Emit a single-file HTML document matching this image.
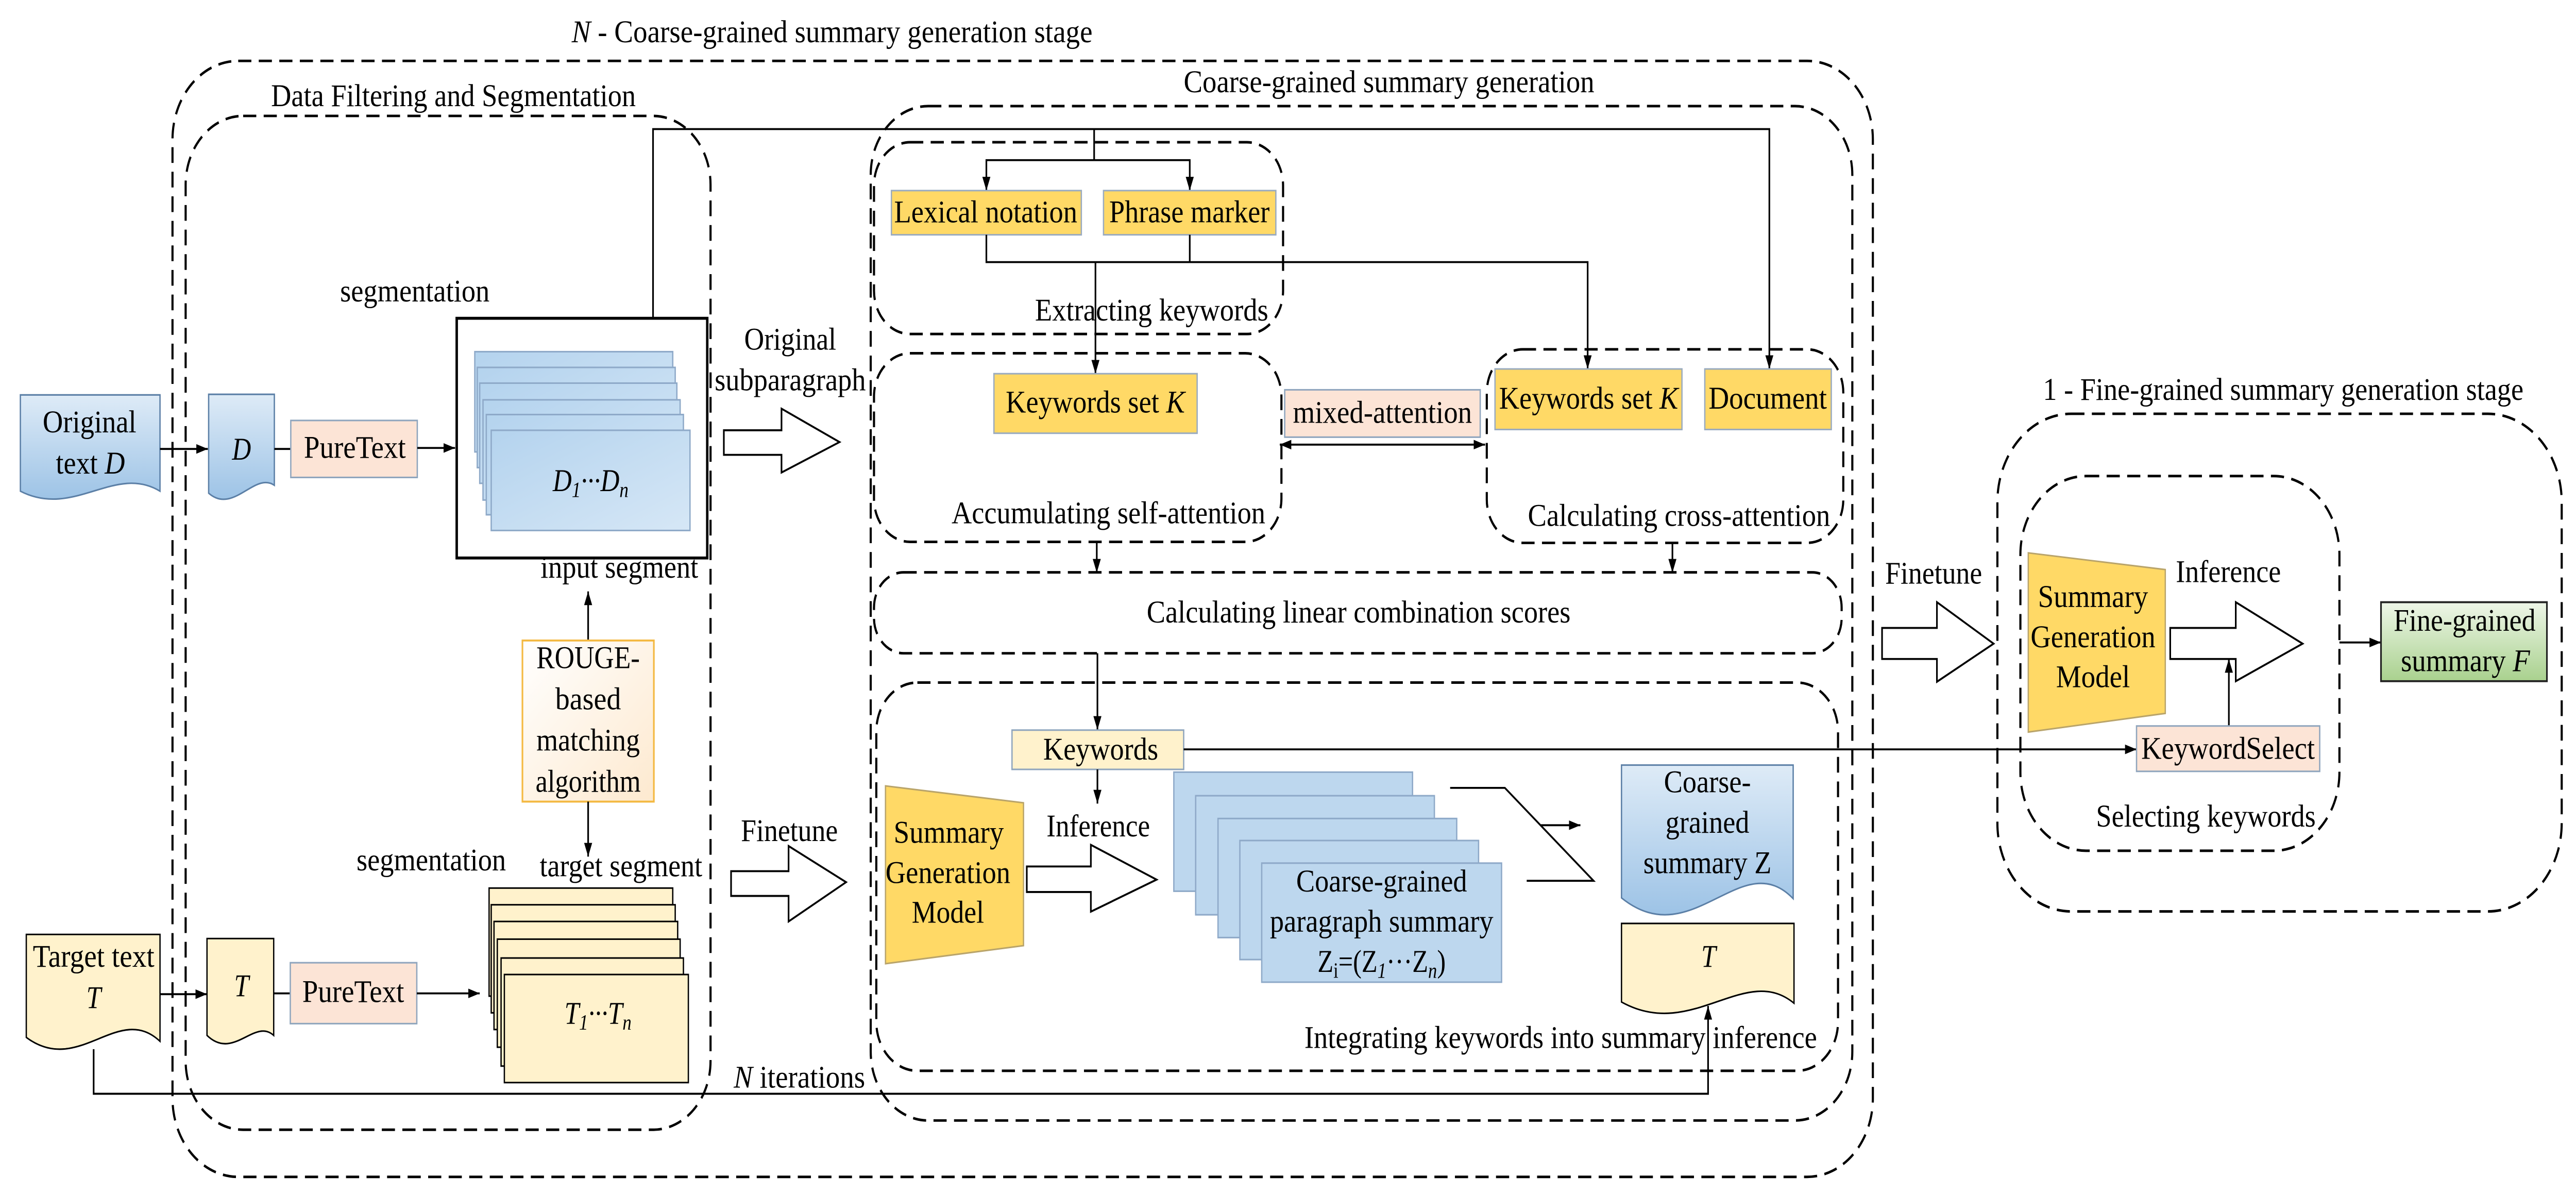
<!DOCTYPE html>
<html><head><meta charset="utf-8"><style>
html,body{margin:0;padding:0;background:#fff;overflow:hidden;width:100vw;height:100vh;}
svg{display:block;width:100vw;height:100vh;}
text{font-family:"Liberation Serif",serif;font-size:16px;fill:#000;}
.d{fill:none;stroke:#000;stroke-width:1.3;stroke-dasharray:8 4.5;}
.l{fill:none;stroke:#000;stroke-width:1;}
</style></head><body>
<svg xmlns="http://www.w3.org/2000/svg" viewBox="0 0 1568 607.2" preserveAspectRatio="none">
<defs>
<marker id="a" viewBox="0 0 10 10" refX="10" refY="5" markerWidth="7" markerHeight="7" markerUnits="userSpaceOnUse" orient="auto-start-reverse"><path d="M0,1.5 L10,5 L0,8.5z" fill="#000"/></marker>
<linearGradient id="bd" x1="0" y1="0" x2="0" y2="1"><stop offset="0" stop-color="#deebf7"/><stop offset="1" stop-color="#9dc3e6"/></linearGradient>
<linearGradient id="bl" x1="0" y1="0" x2="1" y2="1"><stop offset="0" stop-color="#b4d3ee"/><stop offset="1" stop-color="#d6e7f6"/></linearGradient>
<linearGradient id="gr" x1="0" y1="0" x2="0" y2="1"><stop offset="0" stop-color="#eef6e8"/><stop offset="1" stop-color="#a9d18e"/></linearGradient>
<linearGradient id="ro" x1="0" y1="0" x2="1" y2="1"><stop offset="0" stop-color="#ffffff"/><stop offset="1" stop-color="#fde9cf"/></linearGradient>
</defs>

<rect class="d" x="105" y="31" width="1035" height="568" rx="40"/>
<rect class="d" x="113" y="59" width="319.5" height="516" rx="35"/>
<rect class="d" x="530" y="54" width="597.5" height="516.3" rx="35"/>
<rect class="d" x="532" y="72.4" width="249" height="97.6" rx="22"/>
<rect class="d" x="532" y="179.8" width="248" height="96" rx="22"/>
<rect class="d" x="905" y="177.8" width="217" height="98.5" rx="22"/>
<rect class="d" x="532" y="291.3" width="589" height="41.2" rx="18"/>
<rect class="d" x="533.4" y="347.4" width="585.4" height="197.6" rx="25"/>
<rect class="d" x="1215.8" y="210.6" width="343.5" height="253.3" rx="45"/>
<rect class="d" x="1229.8" y="242.3" width="194.2" height="190.7" rx="40"/>

<text x="348" y="21.5" textLength="317" lengthAdjust="spacingAndGlyphs"><tspan font-style="italic">N</tspan> - Coarse-grained summary generation stage</text>
<text x="276" y="54" text-anchor="middle" textLength="222" lengthAdjust="spacingAndGlyphs">Data Filtering and Segmentation</text>
<text x="845.5" y="47" text-anchor="middle" textLength="250" lengthAdjust="spacingAndGlyphs">Coarse-grained summary generation</text>
<text x="1389.8" y="203.6" text-anchor="middle" textLength="292.5" lengthAdjust="spacingAndGlyphs">1 - Fine-grained summary generation stage</text>

<path d="M12.4,201 H97.4 V250 C70,236 45,264 12.4,250 Z" fill="url(#bd)" stroke="#5b7fa6" stroke-width="0.8"/>
<text x="54.5" y="220" text-anchor="middle" textLength="57" lengthAdjust="spacingAndGlyphs">Original</text>
<text x="55" y="241" text-anchor="middle" textLength="42" lengthAdjust="spacingAndGlyphs">text <tspan font-style="italic">D</tspan></text>
<line class="l" x1="97.4" y1="228.5" x2="126.5" y2="228.5" marker-end="url(#a)"/>
<path d="M127,200.7 H167 V247 C155,240 142,262 127,251 Z" fill="url(#bd)" stroke="#5b7fa6" stroke-width="0.8"/>
<text x="147" y="234" text-anchor="middle" font-style="italic">D</text>
<line class="l" x1="167" y1="228.5" x2="177" y2="228.5"/>
<rect x="177" y="214" width="77" height="29" fill="#fce4d6" stroke="#8fa5bd" stroke-width="0.8"/>
<text x="216" y="233" text-anchor="middle" textLength="62" lengthAdjust="spacingAndGlyphs">PureText</text>
<line class="l" x1="254" y1="228" x2="277" y2="228" marker-end="url(#a)"/>
<text x="252.5" y="153.5" text-anchor="middle" textLength="91" lengthAdjust="spacingAndGlyphs">segmentation</text>
<rect x="278" y="162" width="152.5" height="122" fill="#fff" stroke="#000" stroke-width="1.5"/>
<g fill="url(#bl)" stroke="#8ea9c8" stroke-width="0.8">
<rect x="289" y="179" width="120.5" height="51"/>
<rect x="290.5" y="187" width="120.5" height="51"/>
<rect x="292" y="195" width="120" height="51"/>
<rect x="294" y="203.5" width="120" height="51"/>
<rect x="296" y="211" width="120" height="51"/>
<rect x="299" y="219" width="121" height="51"/>
</g>
<text x="359.5" y="250" text-anchor="middle" font-style="italic" font-size="17">D<tspan font-size="11" dy="3">1</tspan><tspan dy="-3">···D</tspan><tspan font-size="11" dy="3">n</tspan></text>
<text x="377" y="294" text-anchor="middle" textLength="96" lengthAdjust="spacingAndGlyphs">input segment</text>
<line class="l" x1="358" y1="326" x2="358" y2="301" marker-end="url(#a)"/>
<rect x="318" y="326" width="80" height="82" fill="url(#ro)" stroke="#f4b942" stroke-width="1"/>
<text x="358" y="340" text-anchor="middle" textLength="63" lengthAdjust="spacingAndGlyphs">ROUGE-</text>
<text x="358" y="361" text-anchor="middle" textLength="40" lengthAdjust="spacingAndGlyphs">based</text>
<text x="358" y="382" text-anchor="middle" textLength="63" lengthAdjust="spacingAndGlyphs">matching</text>
<text x="358" y="403" text-anchor="middle" textLength="64" lengthAdjust="spacingAndGlyphs">algorithm</text>
<line class="l" x1="358" y1="408" x2="358" y2="436" marker-end="url(#a)"/>
<text x="262.5" y="443" text-anchor="middle" textLength="91" lengthAdjust="spacingAndGlyphs">segmentation</text>
<text x="378" y="446" text-anchor="middle" textLength="99" lengthAdjust="spacingAndGlyphs">target segment</text>
<g fill="#fff2cc" stroke="#000" stroke-width="0.8">
<rect x="297.7" y="452" width="111.8" height="55"/>
<rect x="299" y="460.5" width="112" height="55"/>
<rect x="300.7" y="469" width="111.8" height="55"/>
<rect x="302.7" y="478" width="111.3" height="55"/>
<rect x="305" y="487.6" width="111" height="55"/>
<rect x="307" y="496" width="112" height="55"/>
</g>
<text x="364" y="521" text-anchor="middle" font-style="italic" font-size="17">T<tspan font-size="11" dy="3">1</tspan><tspan dy="-3">···T</tspan><tspan font-size="11" dy="3">n</tspan></text>

<path d="M16,475.6 H97.4 V530 C72,510 48,548 16,528 Z" fill="#fff2cc" stroke="#000" stroke-width="0.8"/>
<text x="57" y="492" text-anchor="middle" textLength="74" lengthAdjust="spacingAndGlyphs">Target text</text>
<text x="57" y="513" text-anchor="middle" font-style="italic">T</text>
<line class="l" x1="97.4" y1="506" x2="126" y2="506" marker-end="url(#a)"/>
<path d="M126,477.7 H166.6 V527 C155,518 142,540 126,527 Z" fill="#fff2cc" stroke="#000" stroke-width="0.8"/>
<text x="147" y="507" text-anchor="middle" font-style="italic">T</text>
<line class="l" x1="166.6" y1="505.6" x2="176.7" y2="505.6"/>
<rect x="176.7" y="490" width="77" height="31" fill="#fce4d6" stroke="#8fa5bd" stroke-width="0.8"/>
<text x="215" y="510" text-anchor="middle" textLength="62" lengthAdjust="spacingAndGlyphs">PureText</text>
<line class="l" x1="253.7" y1="505.6" x2="292" y2="505.6" marker-end="url(#a)"/>

<polyline class="l" points="57,534 57,556.7 1039.7,556.7 1039.7,512" marker-end="url(#a)"/>
<text x="446.6" y="553.5" textLength="80" lengthAdjust="spacingAndGlyphs"><tspan font-style="italic">N</tspan> iterations</text>

<text x="481" y="178" text-anchor="middle" textLength="56" lengthAdjust="spacingAndGlyphs">Original</text>
<text x="481" y="198.7" text-anchor="middle" textLength="92" lengthAdjust="spacingAndGlyphs">subparagraph</text>
<polygon points="440.6,219 475.7,219 475.7,208 511,225 475.7,240.5 475.7,231.5 440.6,231.5" fill="#fff" stroke="#000" stroke-width="1"/>
<text x="480.5" y="428" text-anchor="middle" textLength="59" lengthAdjust="spacingAndGlyphs">Finetune</text>
<polygon points="445,443.4 480,443.4 480,430.6 515,449 480,469 480,456 445,456" fill="#fff" stroke="#000" stroke-width="1"/>

<polyline class="l" points="397.5,162 397.5,65.7 1077,65.7 1077,187.8" marker-end="url(#a)"/>
<line class="l" x1="666" y1="65.7" x2="666" y2="81.5"/>
<polyline class="l" points="600.4,97 600.4,81.5 724.2,81.5 724.2,97" marker-start="url(#a)" marker-end="url(#a)"/>
<rect x="542.6" y="97" width="115.6" height="22.5" fill="#ffd966" stroke="#9aabbf" stroke-width="0.8"/>
<text x="600" y="113.2" text-anchor="middle" textLength="111.5" lengthAdjust="spacingAndGlyphs">Lexical notation</text>
<rect x="671.7" y="97" width="104.9" height="22.5" fill="#ffd966" stroke="#9aabbf" stroke-width="0.8"/>
<text x="724" y="113.2" text-anchor="middle" textLength="97.6" lengthAdjust="spacingAndGlyphs">Phrase marker</text>
<polyline class="l" points="600.4,119.5 600.4,133.4 966.4,133.4 966.4,187.8" marker-end="url(#a)"/>
<line class="l" x1="724.2" y1="119.5" x2="724.2" y2="133.4"/>
<line class="l" x1="666.8" y1="133.4" x2="666.8" y2="190.2" marker-end="url(#a)"/>
<text x="701" y="163.2" text-anchor="middle" textLength="142" lengthAdjust="spacingAndGlyphs">Extracting keywords</text>

<rect x="605" y="190.2" width="123.7" height="30.3" fill="#ffd966" stroke="#9aabbf" stroke-width="0.8"/>
<text x="666.7" y="210" text-anchor="middle" textLength="109" lengthAdjust="spacingAndGlyphs">Keywords set <tspan font-style="italic">K</tspan></text>
<rect x="782" y="198.4" width="119" height="24.1" fill="#fce4d6" stroke="#8fa5bd" stroke-width="0.8"/>
<text x="841.5" y="215.2" text-anchor="middle" textLength="109" lengthAdjust="spacingAndGlyphs">mixed-attention</text>
<line class="l" x1="779" y1="226.3" x2="904" y2="226.3" marker-start="url(#a)" marker-end="url(#a)"/>
<rect x="910" y="187.8" width="113.8" height="30.8" fill="#ffd966" stroke="#9aabbf" stroke-width="0.8"/>
<text x="967" y="208" text-anchor="middle" textLength="109" lengthAdjust="spacingAndGlyphs">Keywords set <tspan font-style="italic">K</tspan></text>
<rect x="1037.7" y="187.8" width="77" height="30.8" fill="#ffd966" stroke="#9aabbf" stroke-width="0.8"/>
<text x="1076" y="208" text-anchor="middle" textLength="72" lengthAdjust="spacingAndGlyphs">Document</text>
<text x="674.7" y="266.3" text-anchor="middle" textLength="191" lengthAdjust="spacingAndGlyphs">Accumulating self-attention</text>
<text x="1022" y="267.7" text-anchor="middle" textLength="184" lengthAdjust="spacingAndGlyphs">Calculating cross-attention</text>
<line class="l" x1="667.6" y1="276" x2="667.6" y2="291.5" marker-end="url(#a)"/>
<line class="l" x1="1018" y1="276.5" x2="1018" y2="291.5" marker-end="url(#a)"/>
<text x="827" y="316.8" text-anchor="middle" textLength="258" lengthAdjust="spacingAndGlyphs">Calculating linear combination scores</text>

<line class="l" x1="668" y1="332.5" x2="668" y2="371.5" marker-end="url(#a)"/>
<rect x="616" y="371.6" width="104.5" height="20" fill="#fff2cc" stroke="#8fa5bd" stroke-width="0.8"/>
<text x="670" y="386.6" text-anchor="middle" textLength="70" lengthAdjust="spacingAndGlyphs">Keywords</text>
<line class="l" x1="720.5" y1="381.4" x2="1300.5" y2="381.4" marker-end="url(#a)"/>
<line class="l" x1="668" y1="391.6" x2="668" y2="409" marker-end="url(#a)"/>
<text x="668.5" y="425.7" text-anchor="middle" textLength="63" lengthAdjust="spacingAndGlyphs">Inference</text>
<polygon points="539,400 623,408.6 623,481.3 539,490.5" fill="#ffd966" stroke="#b9a46a" stroke-width="0.8"/>
<text x="577.5" y="429" text-anchor="middle" textLength="67" lengthAdjust="spacingAndGlyphs">Summary</text>
<text x="577" y="449.4" text-anchor="middle" textLength="76" lengthAdjust="spacingAndGlyphs">Generation</text>
<text x="577" y="469.6" text-anchor="middle" textLength="44" lengthAdjust="spacingAndGlyphs">Model</text>
<polygon points="625,441 664,441 664,430 704,447.7 664,464 664,454 625,454" fill="#fff" stroke="#000" stroke-width="1"/>
<g fill="#bdd7ee" stroke="#8ea9c8" stroke-width="0.8">
<rect x="714.5" y="393" width="145.3" height="60.6"/>
<rect x="727.8" y="405" width="145.3" height="60.6"/>
<rect x="741.4" y="416.6" width="145.3" height="60.6"/>
<rect x="754.7" y="427.8" width="145.3" height="60.6"/>
<rect x="768" y="439.3" width="146" height="60.6"/>
</g>
<text x="841" y="453.7" text-anchor="middle" textLength="104" lengthAdjust="spacingAndGlyphs">Coarse-grained</text>
<text x="841" y="474.2" text-anchor="middle" textLength="136" lengthAdjust="spacingAndGlyphs">paragraph summary</text>
<text x="841" y="494.7" text-anchor="middle" textLength="78" lengthAdjust="spacingAndGlyphs">Z<tspan font-size="11" dy="3">i</tspan><tspan dy="-3">=(Z</tspan><tspan font-size="11" dy="3" font-style="italic">1</tspan><tspan dy="-3">···Z</tspan><tspan font-size="11" dy="3" font-style="italic">n</tspan><tspan dy="-3">)</tspan></text>
<polyline class="l" points="882.7,401 916,401 970,448.3 929.3,448.3"/>
<line class="l" x1="938" y1="420" x2="962" y2="420" marker-end="url(#a)"/>
<path d="M987,389.4 H1091.5 V457.4 C1060,430 1030,486 987,457 Z" fill="url(#bd)" stroke="#5b7fa6" stroke-width="0.8"/>
<text x="1039.3" y="403.3" text-anchor="middle" textLength="53" lengthAdjust="spacingAndGlyphs">Coarse-</text>
<text x="1039.3" y="423.9" text-anchor="middle" textLength="51" lengthAdjust="spacingAndGlyphs">grained</text>
<text x="1039.3" y="444.4" text-anchor="middle" textLength="78" lengthAdjust="spacingAndGlyphs">summary Z</text>
<path d="M987,470 H1092 V510.6 C1062,490 1030,530 987,510 Z" fill="#fff2cc" stroke="#000" stroke-width="0.8"/>
<text x="1040" y="492" text-anchor="middle" font-style="italic">T</text>
<text x="950" y="533.4" text-anchor="middle" textLength="312" lengthAdjust="spacingAndGlyphs">Integrating keywords into summary inference</text>

<text x="1177" y="297" text-anchor="middle" textLength="59" lengthAdjust="spacingAndGlyphs">Finetune</text>
<polygon points="1145.6,319.6 1179,319.6 1179,306.5 1213.5,327.6 1179,347 1179,335.4 1145.6,335.4" fill="#fff" stroke="#000" stroke-width="1"/>
<polygon points="1234.6,281.4 1318,289.9 1318,363.1 1234.6,372.6" fill="#ffd966" stroke="#b9a46a" stroke-width="0.8"/>
<text x="1274" y="309" text-anchor="middle" textLength="67" lengthAdjust="spacingAndGlyphs">Summary</text>
<text x="1274" y="329.4" text-anchor="middle" textLength="76" lengthAdjust="spacingAndGlyphs">Generation</text>
<text x="1274" y="349.7" text-anchor="middle" textLength="45" lengthAdjust="spacingAndGlyphs">Model</text>
<text x="1356.4" y="296.3" text-anchor="middle" textLength="64" lengthAdjust="spacingAndGlyphs">Inference</text>
<polygon points="1321,319.6 1360.9,319.6 1360.9,306.5 1401.6,327.6 1360.9,346.7 1360.9,335.4 1321,335.4" fill="#fff" stroke="#000" stroke-width="1"/>
<line class="l" x1="1356.7" y1="369.5" x2="1356.7" y2="335.4" marker-end="url(#a)"/>
<rect x="1300.5" y="369.5" width="111.5" height="23.1" fill="#fce4d6" stroke="#8fa5bd" stroke-width="0.8"/>
<text x="1356.2" y="386.2" text-anchor="middle" textLength="105.7" lengthAdjust="spacingAndGlyphs">KeywordSelect</text>
<text x="1342.7" y="420.7" text-anchor="middle" textLength="133.7" lengthAdjust="spacingAndGlyphs">Selecting keywords</text>
<line class="l" x1="1424" y1="327" x2="1449.3" y2="327" marker-end="url(#a)"/>
<rect x="1449.3" y="306.5" width="101" height="40.2" fill="url(#gr)" stroke="#222" stroke-width="1"/>
<text x="1500.2" y="321" text-anchor="middle" textLength="86.4" lengthAdjust="spacingAndGlyphs">Fine-grained</text>
<text x="1500.7" y="341.7" text-anchor="middle" textLength="78.6" lengthAdjust="spacingAndGlyphs">summary <tspan font-style="italic">F</tspan></text>
</svg>
</body></html>
